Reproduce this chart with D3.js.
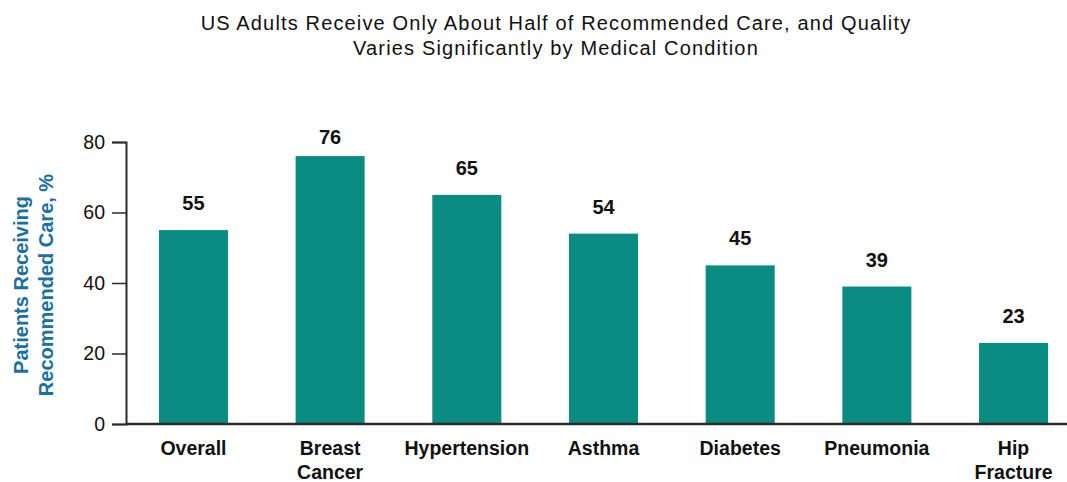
<!DOCTYPE html>
<html>
<head>
<meta charset="utf-8">
<script src="https://cdn.jsdelivr.net/npm/d3@7"></script>
<style>
  html, body { margin: 0; padding: 0; background: #fff; }
  svg { display: block; font-family: "Liberation Sans", Arial, Helvetica, sans-serif; }
</style>
</head>
<body>
<svg id="chart" width="1067" height="482"></svg>
<script>
// Share of patients receiving recommended care, by condition
const categories = [["Overall"], ["Breast", "Cancer"], ["Hypertension"], ["Asthma"], ["Diabetes"], ["Pneumonia"], ["Hip", "Fracture"]];
const values = [55, 76, 65, 54, 45, 39, 23];
const yTicks = [0, 20, 40, 60, 80];
const titleLines = ["US Adults Receive Only About Half of Recommended Care, and Quality",
                    "Varies Significantly by Medical Condition"];
const yLabelLines = ["Patients Receiving", "Recommended Care, %"];

const svg = d3.select("#chart");
const barColor = "#0a8c82";
const axisColor = "#2b2b2b";

const keys = categories.map(c => c.join(" "));

const x = d3.scaleBand()
  .domain(keys)
  .range([126, 1081])
  .paddingInner(0.495)
  .paddingOuter(0.241);

const y = d3.scaleLinear().domain([0, 80]).range([424, 142]);

// Title
svg.append("g").selectAll("text")
  .data(titleLines)
  .join("text")
  .attr("x", 556)
  .attr("y", (d, i) => 30 + i * 25)
  .attr("text-anchor", "middle")
  .attr("font-size", 20)
  .attr("letter-spacing", 1.15)
  .attr("fill", "#111")
  .text(d => d);

// Bars
svg.append("g").selectAll("rect")
  .data(values)
  .join("rect")
  .attr("x", (d, i) => x(keys[i]))
  .attr("width", x.bandwidth())
  .attr("y", d => y(d))
  .attr("height", d => y(0) - y(d))
  .attr("fill", barColor);

// Value labels above bars
svg.append("g").selectAll("text")
  .data(values)
  .join("text")
  .attr("x", (d, i) => x(keys[i]) + x.bandwidth() / 2)
  .attr("y", d => Math.max(y(d) - 20, 144))
  .attr("text-anchor", "middle")
  .attr("font-size", 20)
  .attr("font-weight", "bold")
  .attr("fill", "#111")
  .text(d => d);

// Y axis
const yAxis = svg.append("g")
  .attr("transform", "translate(126,0)")
  .call(d3.axisLeft(y).tickValues(yTicks).tickSize(14).tickPadding(7));
yAxis.select(".domain").attr("stroke", axisColor).attr("stroke-width", 2);
yAxis.selectAll(".tick line").attr("stroke", axisColor).attr("stroke-width", 1.5);
yAxis.selectAll(".tick text")
  .attr("font-size", 19.5)
  .attr("font-family", "'Liberation Sans', Arial, sans-serif")
  .attr("fill", "#111");

// X axis baseline
svg.append("line")
  .attr("x1", 126).attr("x2", 1067)
  .attr("y1", y(0)).attr("y2", y(0))
  .attr("stroke", axisColor)
  .attr("stroke-width", 2.5);

// Category labels
const catG = svg.append("g").selectAll("text")
  .data(categories)
  .join("text")
  .attr("x", (d, i) => x(keys[i]) + x.bandwidth() / 2)
  .attr("y", 455)
  .attr("text-anchor", "middle")
  .attr("font-size", 19.5)
  .attr("font-weight", "bold")
  .attr("fill", "#111");
catG.selectAll("tspan")
  .data(d => d)
  .join("tspan")
  .attr("x", function () { return d3.select(this.parentNode).attr("x"); })
  .attr("dy", (d, i) => i === 0 ? 0 : 24)
  .text(d => d);

// Y axis title
svg.append("g")
  .attr("transform", "translate(0,285) rotate(-90)")
  .selectAll("text")
  .data(yLabelLines)
  .join("text")
  .attr("x", 0)
  .attr("y", (d, i) => 28 + i * 25)
  .attr("text-anchor", "middle")
  .attr("font-size", 20)
  .attr("font-weight", "bold")
  .attr("fill", "#1a6fa3")
  .text(d => d);
</script>
</body>
</html>
